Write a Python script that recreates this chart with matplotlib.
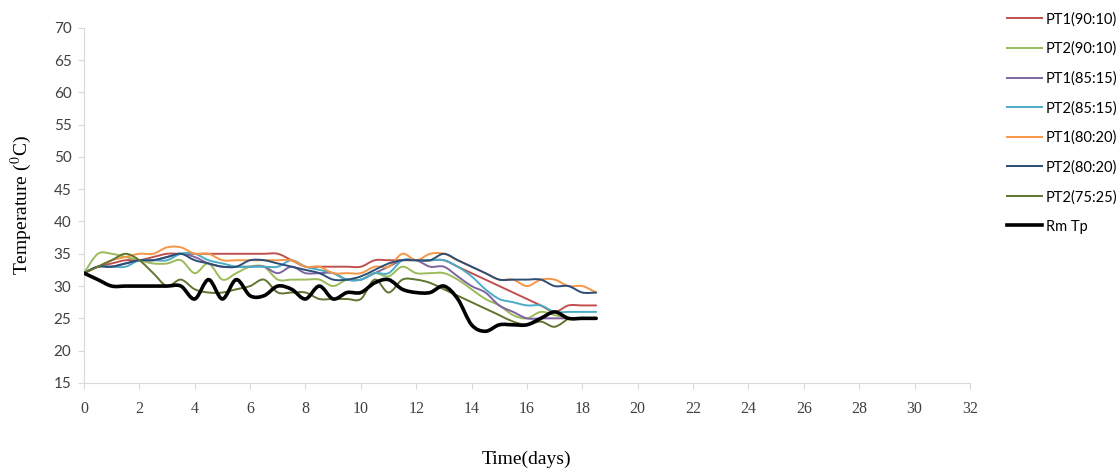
import numpy as np
import matplotlib
matplotlib.use('Agg')
import matplotlib.pyplot as plt
from matplotlib.path import Path
from matplotlib.patches import PathPatch
from matplotlib.lines import Line2D

nan = np.nan

# sampling days (half-day readings)
days = [0, 0.5, 1, 1.5, 2, 2.5, 3, 3.5, 4, 4.5, 5, 5.5, 6, 6.5, 7, 7.5, 8, 8.5, 9, 9.5,
        10, 10.5, 11, 11.5, 12, 12.5, 13, 13.5, 14, 14.5, 15, 15.5, 16, 16.5, 17, 17.5, 18, 18.5]

pt1_90 = [32, 33, 33.5, 34, 34, 34.5, 35, 35, 35, 35, 35, 35, 35, 35, 35, 34, 33, 33, 33, 33,
          33, 34, 34, 34, 34, 34, 34, 33, 32, 31, 30, 29, 28, 27, 26, 27, 27, 27]
pt2_90 = [32, 35, 35, 34.5, 34, 33.5, 33.5, 34, 32, 33.5, 31, 32, 33, 33, 31, 31, 31, 31, 30, 31,
          31, 32, 31.5, 33, 32, 32, 32, 31, 29.5, 28, 27, 25.5, 25, 26, 25.5, 25, nan, nan]
pt1_85 = [32, 33, 33, 33.5, 34, 34, 34.5, 35, 34.5, 33.5, 33, 33, 33, 33, 32, 33, 32, 32, 32, 31,
          31, 32, 33, 34, 34, 33, 33, 31.5, 30, 29, 27, 26, 25, 25, 25, 25, 25, 25]
pt2_85 = [32, 33, 33, 33, 34, 34, 34, 35, 35, 34, 33.5, 33, 33, 33, 33, 34, 33, 32.5, 32, 31,
          31, 32, 32, 34, 34, 34, 34, 33, 31.5, 29.5, 28, 27.5, 27, 27, 26, 26, 26, 26]
pt1_80 = [32, 33, 34, 34.5, 35, 35, 36, 36, 35, 35, 34, 34, 34, 34, 34, 34, 33, 33, 32, 32,
          32, 33, 33, 35, 34, 35, 35, 34, 33, 32, 31, 31, 30, 31, 31, 30, 30, 29]
pt2_80 = [32, 33, 33, 33.5, 34, 34, 34.5, 35, 34, 33.5, 33, 33, 34, 34, 33.5, 33, 32.5, 32, 31, 31,
          31.5, 32.5, 33.5, 34, 34, 34, 35, 34, 33, 32, 31, 31, 31, 31, 30, 30, 29, 29]
pt2_75 = [32, 33, 34, 35, 34, 32, 30, 31, 29.5, 29, 29, 29.5, 30, 31, 29, 29, 29, 28, 28, 28,
          28, 31, 29, 31, 31, 30.5, 29.5, 28.5, 27.5, 26.5, 25.5, 24.5, 24, 24.5, 23.7, 25, nan, nan]
rm_tp = [32, 31, 30, 30, 30, 30, 30, 30, 28, 31, 28, 31, 28.5, 28.5, 30, 29.5, 28, 30, 28, 29,
         29, 30.5, 31, 29.5, 29, 29, 30, 28, 24, 23, 24, 24, 24, 25, 26, 25, 25, 25]

labels = ['PT1(90:10)', 'PT2(90:10)', 'PT1(85:15)', 'PT2(85:15)',
          'PT1(80:20)', 'PT2(80:20)', 'PT2(75:25)', 'Rm Tp']
series = [pt1_90, pt2_90, pt1_85, pt2_85, pt1_80, pt2_80, pt2_75, rm_tp]
colors = ['#C0504D', '#9BBB59', '#8064A2', '#4BACC6', '#F79646', '#2C4D75', '#5F7530', '#000000']
widths = [1.4, 1.4, 1.4, 1.4, 1.4, 1.4, 1.4, 2.6]


def smooth_path(x, y):
    # excel-like smoothed line: cubic bezier through the points
    pts = np.column_stack([np.asarray(x, float), np.asarray(y, float)])
    pts = pts[~np.isnan(pts[:, 1])]
    n = len(pts)
    verts = [pts[0]]
    codes = [Path.MOVETO]
    for i in range(n - 1):
        p0 = pts[i - 1] if i > 0 else pts[i]
        p1 = pts[i]
        p2 = pts[i + 1]
        p3 = pts[i + 2] if i + 2 < n else pts[i + 1]
        verts += [p1 + (p2 - p0) / 6, p2 - (p3 - p1) / 6, p2]
        codes += [Path.CURVE4] * 3
    return Path(verts, codes)


plt.rcParams['mathtext.fontset'] = 'stix'
fig = plt.figure(figsize=(11.2, 4.71), dpi=100)
ax = fig.add_axes([0.075, 0.187, 0.791, 0.754])

handles = []
for vals, lab, col, lw in zip(series, labels, colors, widths):
    z = 5 if lab == 'Rm Tp' else 3
    ax.add_patch(PathPatch(smooth_path(days, vals), fill=False, edgecolor=col, lw=lw,
                           zorder=z, capstyle='round', joinstyle='round'))
    handles.append(Line2D([], [], color=col, lw=lw))

ax.set_xlim(0, 32)
ax.set_ylim(15, 70)
ax.set_xticks(range(0, 33, 2))
ax.set_yticks(range(15, 71, 5))

for s in ['top', 'right']:
    ax.spines[s].set_visible(False)
for s in ['left', 'bottom']:
    ax.spines[s].set_color('#D9D9D9')
ax.tick_params(axis='both', color='#D9D9D9', length=4)
ax.tick_params(axis='x', pad=9)
ax.tick_params(axis='y', pad=5)
for t in ax.get_xticklabels():
    t.set_fontfamily('Liberation Serif')
    t.set_fontsize(11.5)
    t.set_color('#404040')
for t in ax.get_yticklabels():
    t.set_fontfamily('Lato')
    t.set_fontsize(11)
    t.set_color('#404040')

ax.set_xlabel('Time(days)', fontfamily='Liberation Serif', fontsize=14, labelpad=24)
ax.set_ylabel('Temperature ($^{0}$C)', fontfamily='Liberation Serif', fontsize=14, labelpad=14)

fig.legend(handles, labels, loc='upper left', bbox_to_anchor=(0.894, 0.987), frameon=False,
           prop={'family': 'Lato', 'size': 10.5}, labelspacing=1.05, handlelength=2.4,
           handletextpad=0.27, borderaxespad=0)

fig.savefig('out.png', dpi=100)
